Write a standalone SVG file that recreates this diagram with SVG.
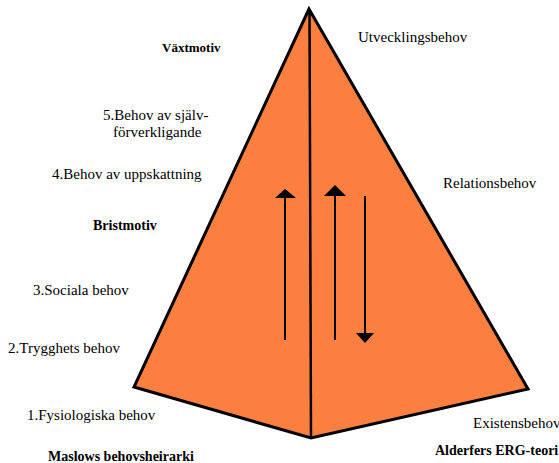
<svg xmlns="http://www.w3.org/2000/svg" width="559" height="463" viewBox="0 0 559 463">
<defs>
<style>
.edge{stroke:#000;stroke-width:2;fill:none}
.head{fill:#000}
</style>
</defs>
<rect width="559" height="463" fill="#fff"/>
<g id="pyramid">
<polygon points="309,9 134,387 311,438 528,389" fill="#FB8040" stroke="#000" stroke-width="3" stroke-linejoin="miter"/>
<line x1="309.5" y1="9" x2="311" y2="438" stroke="#000" stroke-width="2.5"/>
</g>
<g id="connectors">
<line class="edge" x1="285" y1="340" x2="285" y2="198"/>
<polygon class="head" points="285,189 275,198 296,198"/>
<line class="edge" x1="335" y1="340" x2="335" y2="196"/>
<polygon class="head" points="335,185 324,196 346,196"/>
<line class="edge" x1="365" y1="196" x2="365" y2="333"/>
<polygon class="head" points="365,343 356,333 374,333"/>
</g>
<g id="maslow">
<text font-family="Liberation Serif" font-size="13" font-weight="bold" x="162" y="52">Växtmotiv</text>
<text font-family="Liberation Serif" font-size="15" x="103" y="120">5.Behov av själv-</text>
<text font-family="Liberation Serif" font-size="15" x="113" y="137">förverkligande</text>
<text font-family="Liberation Serif" font-size="15" x="52" y="179">4.Behov av uppskattning</text>
<text font-family="Liberation Serif" font-size="14" font-weight="bold" x="93" y="230">Bristmotiv</text>
<text font-family="Liberation Serif" font-size="15" x="33" y="295">3.Sociala behov</text>
<text font-family="Liberation Serif" font-size="15" x="8" y="353">2.Trygghets behov</text>
<text font-family="Liberation Serif" font-size="15" x="27" y="420">1.Fysiologiska behov</text>
<text font-family="Liberation Serif" font-size="14" font-weight="bold" x="48" y="461">Maslows behovsheirarki</text>
</g>
<g id="erg">
<text font-family="Liberation Serif" font-size="15" x="358" y="42">Utvecklingsbehov</text>
<text font-family="Liberation Serif" font-size="15" x="443" y="188">Relationsbehov</text>
<text font-family="Liberation Serif" font-size="15" x="473" y="428">Existensbehov</text>
<text font-family="Liberation Serif" font-size="14" font-weight="bold" x="435" y="455">Alderfers ERG-teori</text>
</g>
</svg>
